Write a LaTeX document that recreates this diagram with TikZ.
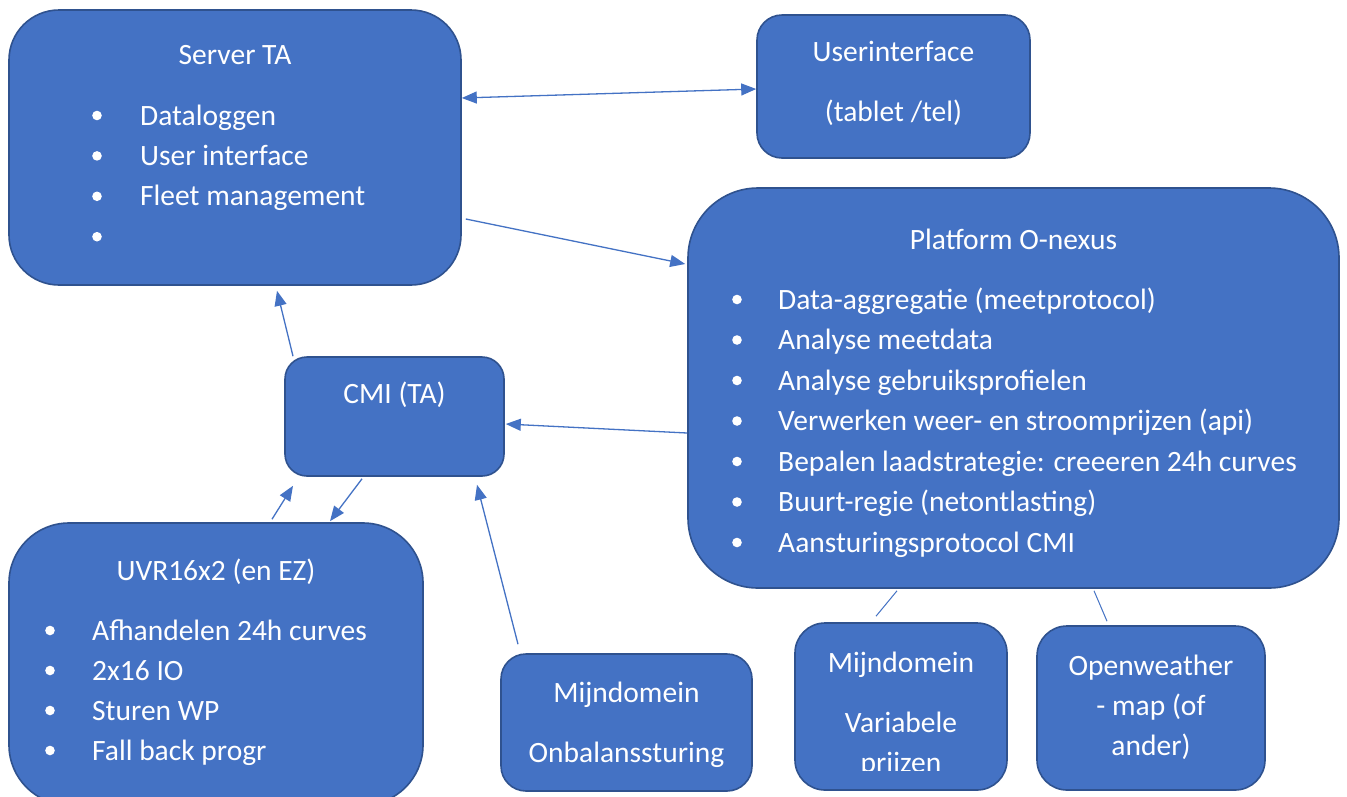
\documentclass[tikz,border=0pt]{standalone}
\usepackage{fontspec}
\setmainfont{Carlito}
\usetikzlibrary{arrows.meta}
\definecolor{boxfill}{HTML}{4472C4}
\definecolor{boxline}{HTML}{2F528F}
\tikzset{
  box/.style={draw=boxline, line width=1.6pt, fill=boxfill, rectangle, inner sep=0pt},
  txt/.style={text=white, inner sep=0pt, font=\fontsize{29.5}{35}\selectfont},
  arr/.style={draw=boxfill, line width=1.3pt, -{Triangle[length=15pt,width=12pt]}},
  darr/.style={draw=boxfill, line width=1.3pt, {Triangle[length=15pt,width=12pt]}-{Triangle[length=15pt,width=12pt]}},
  lnk/.style={draw=boxfill, line width=1pt},
  dot/.style={fill=white}
}
\begin{document}
\begin{tikzpicture}[x=1pt,y=-1pt]
\useasboundingbox (0,0) rectangle (1347,796);
\clip (0,0) rectangle (1347,796);
\fill[white] (0,0) rectangle (1347,796);

% boxes
\node[box, rounded corners=50pt, minimum width=452pt, minimum height=275pt] (srv) at (235,147.5) {};
\node[box, rounded corners=25pt, minimum width=273pt, minimum height=143pt] (ui) at (893.5,86.5) {};
\node[box, rounded corners=70pt, minimum width=651pt, minimum height=400pt] (plat) at (1013.5,388) {};
\node[box, rounded corners=22pt, minimum width=219pt, minimum height=119pt] (cmi) at (394.5,416.5) {};
\node[box, rounded corners=60pt, minimum width=414pt, minimum height=282pt] (uvr) at (216,664) {};
\node[box, rounded corners=25pt, minimum width=251pt, minimum height=137pt] (mo) at (626.5,722.5) {};
\node[box, rounded corners=30pt, minimum width=212pt, minimum height=167pt] (mv) at (901,706.5) {};
\node[box, rounded corners=30pt, minimum width=228pt, minimum height=164pt] (ow) at (1151,708) {};

% Server TA
\node[txt, anchor=base] (srvt) at (235,64) {Server TA};
\foreach \t [count=\i] in {{Dataloggen},{User interface},{Fleet management},{}} {
  \fill[dot] (97,{125+40.4*(\i-1)-9.5}) circle (4.8);
  \node[txt, anchor=base west] (srv-\i) at (140,{125+40.4*(\i-1)}) {\t};
}

% Userinterface
\node[txt, anchor=base] (uit) at (893.5,61) {Userinterface};
\node[txt, anchor=base] (uis) at (893.5,121) {(tablet /tel)};

% Platform
\node[txt, anchor=base] (platt) at (1013.5,249) {Platform O-nexus};
\foreach \t [count=\i] in {{Data-aggregatie (meetprotocol)},{Analyse meetdata},{Analyse gebruiksprofielen},{Verwerken weer- en stroomprijzen (api)},{Bepalen laadstrategie: creeeren 24h curves},{Buurt-regie (netontlasting)},{Aansturingsprotocol CMI}} {
  \fill[dot] (737,{309+40.5*(\i-1)-9.5}) circle (4.8);
  \node[txt, anchor=base west] (plat-\i) at (778,{309+40.5*(\i-1)}) {\t};
}

% CMI
\node[txt, anchor=base] (cmit) at (394.5,403) {CMI (TA)};

% UVR
\node[txt, anchor=base] (uvrt) at (216,580) {UVR16x2 (en EZ)};
\foreach \t [count=\i] in {{Afhandelen 24h curves},{2x16 IO},{Sturen WP},{Fall back progr}} {
  \fill[dot] (50,{640+40*(\i-1)-9.5}) circle (4.8);
  \node[txt, anchor=base west] (uvr-\i) at (92,{640+40*(\i-1)}) {\t};
}

% Mijndomein onbalans
\node[txt, anchor=base] (mot) at (626.5,702) {Mijndomein};
\node[txt, anchor=base] (mos) at (626.5,762) {Onbalanssturing};

% Mijndomein variabele prijzen
\node[txt, anchor=base] (mvt) at (901,672) {Mijndomein};
\node[txt, anchor=base] (mvs) at (901,732) {Variabele};
\begin{scope}
\clip (795,600) rectangle (1007,770);
\node[txt, anchor=base] (mvu) at (901,772) {prijzen};
\end{scope}

% Openweather
\node[txt, anchor=base] (owt) at (1151,675) {Openweather};
\node[txt, anchor=base] (ow2) at (1151,715) {- map (of};
\node[txt, anchor=base] (ow3) at (1151,755) {ander)};

% connectors
\draw[darr] ([yshift=49.5pt]srv.east) -- ([yshift=-2.5pt]ui.west);
\draw[arr] ([xshift=4pt,yshift=-71.5pt]srv.east) -- ([xshift=-2pt,yshift=124pt]plat.west);
\draw[arr] ([xshift=-101.5pt]cmi.north) -- ([xshift=42pt,yshift=-5pt]srv.south);
\draw[arr] ([yshift=-45pt]plat.west) -- ([xshift=1pt,yshift=-7.5pt]cmi.east);
\draw[arr] ([xshift=-108.5pt,yshift=9pt]mo.north) -- ([xshift=82.5pt,yshift=-8pt]cmi.south);
\draw[arr] ([xshift=56pt,yshift=3pt]uvr.north) -- ([xshift=-101.5pt,yshift=-9pt]cmi.south);
\draw[arr] ([xshift=-32.5pt,yshift=-2pt]cmi.south) -- ([xshift=114pt,yshift=1pt]uvr.north);
\draw[lnk] ([xshift=-116.5pt,yshift=-2pt]plat.south) -- ([xshift=-25pt,yshift=6pt]mv.north);
\draw[lnk] ([xshift=80.5pt,yshift=-2pt]plat.south) -- ([xshift=-44pt,yshift=4pt]ow.north);
\end{tikzpicture}
\end{document}
